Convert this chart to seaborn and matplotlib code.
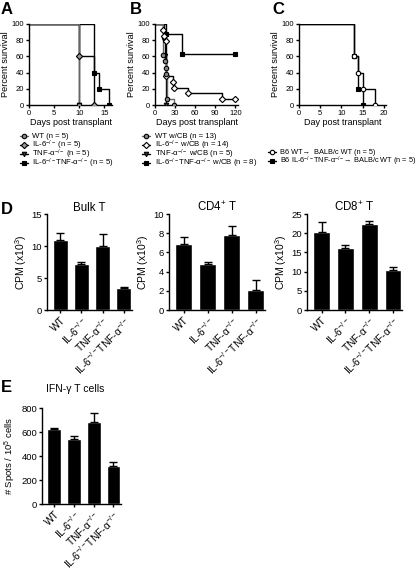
import numpy as np
import pandas as pd
import matplotlib
matplotlib.use("Agg")
import matplotlib.pyplot as plt
from matplotlib.lines import Line2D
import seaborn as sns

sns.set_style("ticks")
plt.rcParams["font.family"] = ["Liberation Sans", "DejaVu Sans"]
plt.rcParams["mathtext.fontset"] = "custom"
plt.rcParams["mathtext.rm"] = "Liberation Sans"
plt.rcParams["mathtext.it"] = "Liberation Sans:italic"
plt.rcParams["mathtext.bf"] = "Liberation Sans:bold"
plt.rcParams["axes.linewidth"] = 1.0
plt.rcParams["xtick.major.width"] = 1.0
plt.rcParams["ytick.major.width"] = 1.0
plt.rcParams["xtick.major.size"] = 2.5
plt.rcParams["ytick.major.size"] = 2.5
for k in ["text.color", "axes.labelcolor", "xtick.color", "ytick.color", "axes.edgecolor"]:
    plt.rcParams[k] = "black"

KO = "$^{-/-}$"

# Panel A - survival (days, percent)
a_wt_days = [0, 10]
a_wt_surv = [100, 0]
a_il6_days = [0, 10, 13]
a_il6_surv = [100, 60, 0]
a_tnf_days = [0, 10]
a_tnf_surv = [100, 0]
a_dko_days = [0, 13, 14, 16]
a_dko_surv = [100, 40, 20, 0]

# Panel B - survival with CB
b_wt_days = [0, 12, 15, 16, 17, 18, 28]
b_wt_surv = [100, 61.5, 53.8, 46.2, 38.5, 7.7, 0]
b_il6_days = [0, 12, 14, 16, 17, 27, 29, 50, 100, 120]
b_il6_surv = [100, 92.9, 85.7, 78.6, 35.7, 28.6, 21.4, 14.3, 7.1, 7.1]
b_tnf_days = [0, 13, 15, 17]
b_tnf_surv = [100, 80, 60, 0]
b_dko_days = [0, 17, 40, 120]
b_dko_surv = [100, 87.5, 62.5, 62.5]

# Panel C - survival
c_wt_days = [0, 13, 14, 15, 18]
c_wt_surv = [100, 60, 40, 20, 0]
c_dko_days = [0, 13, 14, 15]
c_dko_surv = [100, 60, 20, 0]

# Panel D / E - bar data (mean, sem)
groups = ["WT", "IL-6" + KO, "TNF-α" + KO, "IL-6" + KO + "TNF-α" + KO]
bulk_mean = [10.9, 7.2, 10.0, 3.4]
bulk_err = [1.1, 0.3, 1.8, 0.2]
cd4_mean = [6.9, 4.8, 7.8, 2.1]
cd4_err = [0.7, 0.15, 1.0, 1.0]
cd8_mean = [20.2, 16.2, 22.4, 10.4]
cd8_err = [2.8, 0.7, 0.8, 0.9]
ifn_mean = [625, 540, 680, 320]
ifn_err = [5, 30, 75, 30]

W, H = 420, 570
fig = plt.figure(figsize=(W / 100, H / 100), dpi=100)


def box(x0, y0, x1, y1):
    # pixel box (top-left origin) -> figure fraction
    return [x0 / W, 1 - y1 / H, (x1 - x0) / W, (y1 - y0) / H]


# styles: (marker, face, line colour)
ST_WT = ("o", "#888888", "#666666")
ST_IL6 = ("D", "#999999", "black")
ST_IL6_OPEN = ("D", "white", "black")
ST_TNF = ("v", "#333333", "black")
ST_DKO = ("s", "black", "black")
ST_OPEN = ("o", "white", "black")


def surv(ax, days, vals, style):
    marker, mfc, color = style
    ax.plot(days, vals, drawstyle="steps-post", color=color, lw=1.0, zorder=2)
    ax.plot(days[1:], vals[1:], ls="none", marker=marker, ms=3.2, mfc=mfc,
            mec="black", mew=0.8, zorder=3)


def surv_axes(ax, xlim, xticks, xlabel):
    ax.set_xlim(xlim)
    ax.set_ylim(0, 100)
    ax.set_xticks(xticks)
    ax.set_yticks([0, 20, 40, 60, 80, 100])
    ax.tick_params(labelsize=5.5, pad=1)
    ax.set_xlabel(xlabel, fontsize=6.5, labelpad=1)
    ax.set_ylabel("Percent survival", fontsize=6.6, labelpad=1)
    ax.spines[["top", "right"]].set_visible(False)
    for sp in ax.spines.values():
        sp.set_clip_on(False)


def legend_rows(entries, xm, xt, ys, fs=5.6):
    # hand-laid legend: evenly spaced rows (pixels from top-left)
    for (style, label), y in zip(entries, ys):
        marker, mfc, color = style
        yf = 1 - y / H
        fig.add_artist(Line2D([(xm - 4) / W, (xm + 4) / W], [yf, yf], color=color,
                              lw=1.0, transform=fig.transFigure))
        fig.add_artist(Line2D([xm / W], [yf], marker=marker, ms=3.2, mfc=mfc,
                              mec="black", mew=0.8, transform=fig.transFigure))
        fig.text(xt / W, 1 - (y + 2.4) / H, label, fontsize=fs, va="baseline")


rows4 = [136, 145, 154, 163]

# ---- A
axA = fig.add_axes(box(29, 24, 112, 105))
surv(axA, a_dko_days, a_dko_surv, ST_DKO)
surv(axA, a_tnf_days, a_tnf_surv, ST_TNF)
surv(axA, a_il6_days, a_il6_surv, ST_IL6)
surv(axA, a_wt_days, a_wt_surv, ST_WT)
surv_axes(axA, (0, 16.5), [0, 5, 10, 15], "Days post transplant")
legend_rows([(ST_WT, "WT (n = 5)"),
             (ST_IL6, "IL-6" + KO + " (n = 5)"),
             (ST_TNF, "TNF-α" + KO + " (n = 5)"),
             (ST_DKO, "IL-6" + KO + "TNF-α" + KO + " (n = 5)")],
            24, 32, rows4)

# ---- B
axB = fig.add_axes(box(155, 24, 238, 105))
surv(axB, b_dko_days, b_dko_surv, ST_DKO)
surv(axB, b_tnf_days, b_tnf_surv, ST_TNF)
surv(axB, b_il6_days, b_il6_surv, ST_IL6_OPEN)
surv(axB, b_wt_days, b_wt_surv, ST_WT)
surv_axes(axB, (0, 124), [0, 30, 60, 90, 120], "Days post transplant")
legend_rows([(ST_WT, "WT w/CB (n = 13)"),
             (ST_IL6_OPEN, "IL-6" + KO + " w/CB (n = 14)"),
             (ST_TNF, "TNF-α" + KO + " w/CB (n = 5)"),
             (ST_DKO, "IL-6" + KO + "TNF-α" + KO + " w/CB (n = 8)")],
            146, 155, rows4)

# ---- C
axC = fig.add_axes(box(299, 24, 386, 105))
surv(axC, c_dko_days, c_dko_surv, ST_DKO)
surv(axC, c_wt_days, c_wt_surv, ST_OPEN)
surv_axes(axC, (0, 20.5), [0, 5, 10, 15, 20], "Day post transplant")
legend_rows([(ST_OPEN, "B6 WT→  BALB/c WT (n = 5)"),
             (ST_DKO, "B6 IL-6" + KO + "TNF-α" + KO + "→ BALB/c WT (n = 5)")],
            272, 280, [152, 161], fs=5.3)


# ---- D / E bars
def bars(ax, means, errs, ylim, yticks, title, ylabel):
    df = pd.DataFrame({"group": groups, "value": means})
    sns.barplot(data=df, x="group", y="value", color="black", saturation=1,
                width=0.7, errorbar=None, ax=ax)
    ax.errorbar(np.arange(len(means)), means, yerr=[np.zeros(len(errs)), errs],
                fmt="none", ecolor="black", elinewidth=1.0, capsize=3.0,
                capthick=1.0)
    ax.set_xlim(-0.62, 3.38)
    ax.set_ylim(*ylim)
    ax.set_yticks(yticks)
    ax.set_xlabel("")
    ax.set_ylabel(ylabel, fontsize=7.5, labelpad=2)
    ax.set_title(title, fontsize=8.3, pad=2)
    ax.tick_params(axis="y", labelsize=6.8, pad=1)
    ax.tick_params(axis="x", labelsize=7.4, pad=1)
    plt.setp(ax.get_xticklabels(), rotation=45, ha="right", rotation_mode="anchor")
    ax.spines[["top", "right"]].set_visible(False)


axD1 = fig.add_axes(box(47, 214, 132, 310))
bars(axD1, bulk_mean, bulk_err, (0, 15), [0, 5, 10, 15], "Bulk T", "CPM (x10$^{3}$)")
axD2 = fig.add_axes(box(169, 214, 265, 310))
bars(axD2, cd4_mean, cd4_err, (0, 10), [0, 2, 4, 6, 8, 10], "CD4$^{+}$ T", "CPM (x10$^{3}$)")
axD3 = fig.add_axes(box(307, 214, 402, 310))
bars(axD3, cd8_mean, cd8_err, (0, 25), [0, 5, 10, 15, 20, 25], "CD8$^{+}$ T", "CPM (x10$^{3}$)")

axE = fig.add_axes(box(42, 408, 121, 504))
bars(axE, ifn_mean, ifn_err, (0, 800), [0, 200, 400, 600, 800], "", "# Spots / 10$^{5}$ cells")
axE.set_ylabel("# Spots / 10$^{5}$ cells", fontsize=6.8, labelpad=2)
fig.text(75 / W, 1 - 389 / H, "IFN-γ T cells", fontsize=7.5, ha="center", va="center")

# panel letters
for letter, (px, py) in zip("ABCDE", [(1, 10), (130, 10), (272, 10), (1, 209), (1, 388)]):
    fig.text(px / W, 1 - py / H, letter, fontsize=12, fontweight="bold", va="center")

fig.savefig("out.png", dpi=100)
